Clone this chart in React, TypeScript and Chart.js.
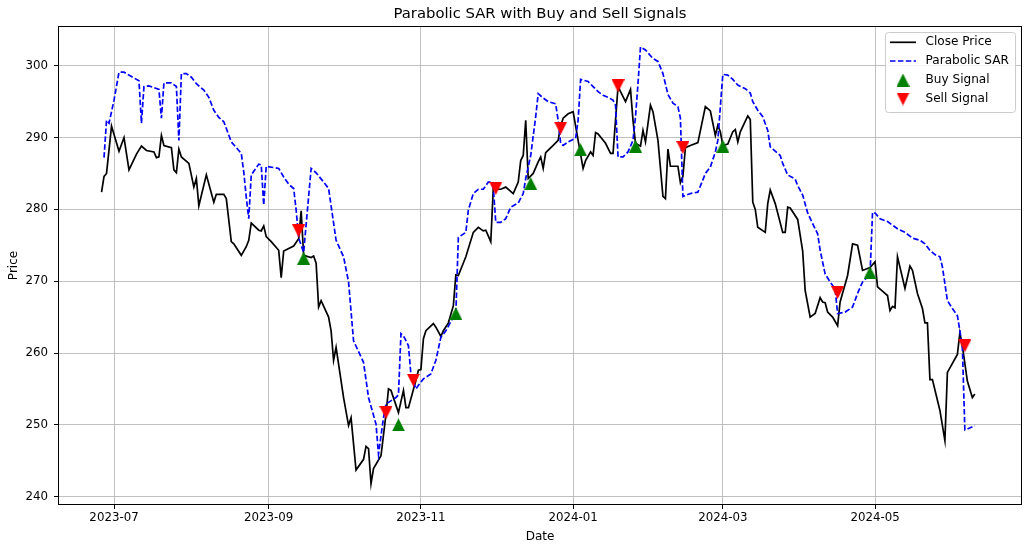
import { useEffect, useRef } from "react"
import { Chart, registerables } from "chart.js"

Chart.register(...registerables)

// x positions are days counted from 2023-07-01
const closeDays = [
  -5, -4, -3, -1, 2, 4, 6, 9, 11, 13, 16, 17, 18, 19, 20, 23, 24, 25, 26, 27, 30, 32, 33, 34, 37, 40, 41, 44, 45, 47,
  48, 51, 53, 54, 55, 58, 59, 60, 61, 63, 66, 67, 68, 72, 74, 75, 76, 79, 80, 81, 82, 83, 86, 87, 88, 89, 92, 94, 95,
  97, 100, 101, 102, 103, 104, 107, 109, 110, 111, 114, 116, 117, 118, 121, 122, 123, 124, 125, 128, 129, 131, 132,
  134, 136, 137, 138, 141, 144, 146, 148, 149, 151, 152, 153, 155, 157, 160, 162, 163, 164, 165, 166, 168, 170, 171,
  172, 173, 176, 178, 179, 180, 182, 184, 186, 188, 189, 191, 192, 193, 194, 197, 199, 200, 202, 203, 205, 207, 208,
  209, 211, 212, 213, 215, 216, 218, 220, 221, 222, 223, 226, 227, 228, 229, 231, 234, 237, 239, 241, 242, 243, 244,
  246, 248, 249, 250, 251, 254, 255, 256, 257, 258, 261, 262, 263, 265, 268, 269, 270, 271, 274, 276, 277, 279, 281,
  283, 284, 285, 286, 288, 290, 291, 294, 296, 298, 300, 303, 305, 306, 309, 310, 311, 312, 313, 314, 317, 319, 320,
  322, 324, 325, 326, 327, 328, 331, 333, 334, 338, 339, 340, 342, 344, 345,
]
const closePrices = [
  282.4, 284.6, 285.0, 291.6, 288.1, 290.0, 285.5, 287.7, 288.8, 288.2, 288.0, 287.2, 287.3, 290.3, 288.9, 288.6, 285.5,
  285.1, 288.4, 287.3, 286.4, 283.1, 284.3, 280.5, 284.8, 281.0, 282.1, 282.1, 281.5, 275.5, 275.2, 273.6, 274.8, 275.7,
  278.1, 277.1, 277.0, 277.7, 276.2, 275.5, 274.3, 270.5, 274.2, 274.9, 275.9, 279.8, 273.6, 273.3, 273.5, 272.5, 266.4,
  267.3, 265.0, 263.1, 259.0, 260.8, 253.8, 249.9, 251.0, 243.7, 245.2, 247.0, 246.7, 241.8, 243.9, 245.7, 251.5, 255.0,
  254.8, 251.7, 254.8, 252.4, 252.4, 256.2, 257.6, 257.7, 262.0, 263.1, 264.1, 263.6, 262.3, 263.1, 264.2, 266.6, 270.9,
  270.8, 273.4, 276.8, 277.5, 277.0, 277.1, 275.5, 282.9, 282.8, 282.8, 283.1, 282.2, 283.8, 286.8, 287.5, 292.4, 284.3,
  285.0, 286.6, 287.3, 285.7, 287.9, 288.9, 289.6, 291.6, 292.7, 293.3, 293.6, 289.6, 285.7, 286.8, 288.0, 287.5, 290.7,
  290.5, 289.2, 287.8, 287.8, 297.1, 296.4, 295.0, 296.7, 292.4, 289.2, 288.8, 291.0, 289.4, 294.5, 293.6, 289.6, 281.8,
  281.5, 288.4, 286.0, 286.0, 283.7, 284.6, 288.6, 288.9, 289.3, 294.3, 293.7, 290.3, 291.7, 290.8, 288.9, 289.1, 290.8,
  291.1, 289.4, 290.8, 293.0, 292.5, 281.0, 280.0, 277.5, 276.8, 280.8, 282.7, 280.8, 276.8, 276.8, 280.3, 280.2, 278.6,
  274.2, 268.7, 265.0, 265.5, 267.7, 267.1, 267.0, 265.7, 265.0, 263.8, 267.1, 270.8, 275.2, 275.0, 271.5, 271.9, 272.7,
  269.2, 268.3, 268.0, 265.9, 266.5, 266.3, 273.4, 269.0, 272.1, 271.5, 268.3, 266.2, 264.2, 264.2, 256.3, 256.3, 252.0,
  247.8, 257.3, 259.8, 262.8, 261.0, 256.1, 253.8, 254.3,
]

const sarDays = [
  -4, -3, -2, 0, 2, 4, 7, 10, 11, 12, 14, 18, 19, 20, 23, 25, 26, 27, 29, 31, 33, 36, 38, 40, 42, 44, 47, 51, 52, 53, 54,
  55, 58, 59, 60, 61, 66, 68, 70, 72, 73, 74, 76, 79, 81, 84, 86, 89, 92, 94, 96, 100, 102, 105, 106, 108, 109, 113, 114,
  115, 116, 118, 119, 121, 122, 124, 127, 129, 131, 133, 136, 137, 138, 141, 142, 144, 146, 148, 150, 151, 152, 153, 155,
  157, 159, 162, 164, 165, 167, 169, 170, 172, 174, 177, 178, 179, 180, 182, 185, 186, 187, 190, 192, 194, 196, 198, 200,
  201, 202, 204, 206, 208, 209, 210, 211, 213, 216, 218, 220, 222, 224, 226, 227, 228, 231, 234, 236, 237, 239, 241, 242,
  243, 244, 246, 248, 250, 253, 255, 256, 258, 260, 262, 263, 265, 267, 268, 270, 273, 274, 276, 278, 280, 282, 283, 285,
  287, 288, 289, 290, 293, 296, 298, 300, 302, 303, 304, 305, 307, 310, 312, 314, 317, 320, 323, 325, 327, 329, 331, 332,
  334, 336, 338, 339, 340, 341, 342, 345,
]
const sarValues = [
  287.2, 292.4, 292.0, 295.2, 299.1, 299.1, 298.5, 297.9, 292.0, 297.1, 297.2, 296.7, 292.7, 297.6, 297.6, 297.1, 289.6,
  298.9, 298.9, 298.4, 297.5, 296.6, 295.6, 293.8, 292.8, 292.2, 289.4, 287.8, 285.2, 281.7, 278.7, 284.8, 286.3, 286.2,
  280.6, 286.0, 285.7, 284.5, 283.5, 282.9, 279.9, 276.0, 274.0, 285.7, 285.1, 283.8, 282.9, 275.7, 273.4, 269.9, 261.7,
  258.7, 253.8, 250.1, 245.9, 251.0, 252.9, 253.8, 254.2, 262.7, 262.4, 261.0, 257.0, 255.0, 255.5, 256.4, 257.1, 259.0,
  262.2, 263.1, 265.0, 265.5, 276.1, 276.8, 279.9, 282.2, 282.8, 282.8, 283.8, 283.8, 283.1, 278.2, 278.2, 278.7, 280.3,
  280.9, 282.2, 284.3, 287.5, 292.9, 296.1, 295.5, 295.0, 294.7, 292.4, 289.2, 288.9, 289.4, 289.9, 292.4, 298.1, 297.8,
  297.1, 296.4, 295.9, 295.6, 295.2, 294.5, 287.3, 287.3, 288.0, 289.6, 292.9, 297.5, 302.6, 302.2, 301.0, 300.6, 298.9,
  296.0, 294.8, 294.3, 292.7, 281.8, 282.2, 282.4, 284.1, 285.0, 285.9, 288.0, 289.6, 294.3, 298.8, 298.7, 298.1, 297.3,
  296.8, 296.2, 295.0, 293.8, 292.9, 291.0, 288.7, 288.1, 287.5, 286.4, 284.8, 284.2, 283.3, 282.0, 279.5, 278.0, 276.6,
  274.3, 271.0, 269.9, 269.4, 268.9, 265.5, 265.7, 266.4, 268.3, 269.9, 270.6, 271.0, 279.6, 279.5, 278.7, 278.3, 277.8,
  277.3, 276.8, 276.0, 275.7, 275.2, 274.3, 273.7, 273.4, 272.0, 267.3, 266.2, 265.2, 263.1, 260.8, 249.3, 249.4, 249.9,
]

const buyDays = [76, 114, 137, 167, 187, 209, 244, 303]
const buyPrices = [273.2, 250.0, 265.5, 283.6, 288.3, 288.8, 288.8, 271.2]
const sellDays = [74, 109, 120, 153, 179, 202, 228, 290, 341]
const sellPrices = [277.0, 251.7, 256.2, 282.9, 291.3, 297.2, 288.6, 268.4, 261.0]

const xTickDays = [0, 62, 123, 184, 244, 305]
const xTickLabels = ["2023-07", "2023-09", "2023-11", "2024-01", "2024-03", "2024-05"]
const yTickValues = [240, 250, 260, 270, 280, 290, 300]

const FONT = "'DejaVu Sans', sans-serif"

const toPoints = (xs: number[], ys: number[]) => xs.map((x, i) => ({ x, y: ys[i] }))

// matplotlib style triangle, centred on its bounding box
function triangleMarker(color: string, down: boolean) {
  const s = 13
  const c = document.createElement("canvas")
  c.width = s
  c.height = s
  const g = c.getContext("2d")!
  g.fillStyle = color
  g.beginPath()
  if (down) {
    g.moveTo(0, 0)
    g.lineTo(s, 0)
    g.lineTo(s / 2, s)
  } else {
    g.moveTo(s / 2, 0)
    g.lineTo(s, s)
    g.lineTo(0, s)
  }
  g.closePath()
  g.fill()
  return c
}

const decorations = {
  id: "decorations",
  afterDatasetsDraw(chart: Chart) {
    const { ctx, chartArea: a } = chart
    ctx.save()
    ctx.strokeStyle = "#000"
    ctx.lineWidth = 1
    ctx.strokeRect(a.left + 0.5, a.top + 0.5, a.right - a.left - 1, a.bottom - a.top - 1)
    ctx.restore()
  },
  afterDraw(chart: Chart) {
    const { ctx, chartArea: a } = chart
    const cx = (a.left + a.right) / 2
    ctx.save()
    ctx.fillStyle = "#000"
    ctx.textBaseline = "middle"
    ctx.textAlign = "center"
    ctx.font = `14.8px ${FONT}`
    ctx.fillText("Parabolic SAR with Buy and Sell Signals", cx, 14)
    ctx.font = `12px ${FONT}`
    ctx.fillText("Date", cx, 537)
    ctx.save()
    ctx.translate(14, (a.top + a.bottom) / 2)
    ctx.rotate(-Math.PI / 2)
    ctx.fillText("Price", 0, 0)
    ctx.restore()

    // legend box
    ctx.beginPath()
    ctx.roundRect(885.5, 32.5, 130, 80, 3)
    ctx.fillStyle = "rgba(255,255,255,0.8)"
    ctx.fill()
    ctx.strokeStyle = "#cccccc"
    ctx.lineWidth = 1
    ctx.stroke()

    const rows = [42.3, 61, 80, 99]
    ctx.lineWidth = 1.7
    ctx.strokeStyle = "#000"
    ctx.beginPath()
    ctx.moveTo(890, rows[0])
    ctx.lineTo(916, rows[0])
    ctx.stroke()
    ctx.strokeStyle = "#0000ff"
    ctx.setLineDash([5.5, 2.4])
    ctx.beginPath()
    ctx.moveTo(890, rows[1])
    ctx.lineTo(916, rows[1])
    ctx.stroke()
    ctx.setLineDash([])
    const up = triangleMarker("#008000", false)
    const dn = triangleMarker("#ff0000", true)
    ctx.drawImage(up, 903 - up.width / 2, rows[2] - up.height / 2)
    ctx.drawImage(dn, 903 - dn.width / 2, rows[3] - dn.height / 2)

    ctx.fillStyle = "#000"
    ctx.textAlign = "left"
    ctx.font = `12.1px ${FONT}`
    ;["Close Price", "Parabolic SAR", "Buy Signal", "Sell Signal"].forEach((t, i) => {
      ctx.fillText(t, 925.5, rows[i])
    })
    ctx.restore()
  },
}

export default function App() {
  const chartRef = useRef<HTMLCanvasElement>(null)
  const chartInstance = useRef<Chart | null>(null)

  useEffect(() => {
    document.body.style.margin = "0"
    document.documentElement.style.overflow = "hidden"
    if (!chartRef.current) return
    const ctx = chartRef.current.getContext("2d")
    if (!ctx) return

    if (chartInstance.current) {
      chartInstance.current.destroy()
    }

    chartInstance.current = new Chart(ctx, {
      type: "line",
      data: {
        datasets: [
          {
            label: "Close Price",
            data: toPoints(closeDays, closePrices),
            borderColor: "#000000",
            borderWidth: 1.7,
            pointRadius: 0,
            tension: 0,
            order: 4,
          },
          {
            label: "Parabolic SAR",
            data: toPoints(sarDays, sarValues),
            borderColor: "#0000ff",
            borderWidth: 1.7,
            borderDash: [5.5, 2.4],
            pointRadius: 0,
            tension: 0,
            order: 3,
          },
          {
            label: "Buy Signal",
            data: toPoints(buyDays, buyPrices),
            showLine: false,
            pointStyle: triangleMarker("#008000", false),
            pointRadius: 7,
            order: 2,
          },
          {
            label: "Sell Signal",
            data: toPoints(sellDays, sellPrices),
            showLine: false,
            pointStyle: triangleMarker("#ff0000", true),
            pointRadius: 7,
            order: 1,
          },
        ],
      },
      options: {
        animation: false,
        responsive: false,
        layout: { autoPadding: false, padding: { top: 26, right: 2, left: 0, bottom: 0 } },
        plugins: {
          legend: { display: false },
          title: { display: false },
          tooltip: { enabled: false },
        },
        scales: {
          x: {
            type: "linear",
            min: -22.45,
            max: 363.9,
            afterFit: (s: any) => {
              s.height = 41
              s.paddingLeft = 0
              s.paddingRight = 0
            },
            afterBuildTicks: (axis: any) => {
              axis.ticks = xTickDays.map((v) => ({ value: v }))
            },
            ticks: {
              callback: (_v: any, i: number) => xTickLabels[i],
              font: { family: FONT, size: 11.8 },
              color: "#000",
              padding: 2,
              maxRotation: 0,
              autoSkip: false,
            },
            grid: { color: "#b0b0b0", lineWidth: 0.8, tickLength: 4, tickColor: "#000", tickWidth: 1 },
            border: { display: false },
          },
          y: {
            type: "linear",
            min: 238.84,
            max: 305.53,
            afterFit: (s: any) => {
              s.width = 58
              s.paddingTop = 0
              s.paddingBottom = 0
            },
            afterBuildTicks: (axis: any) => {
              axis.ticks = yTickValues.map((v) => ({ value: v }))
            },
            ticks: {
              font: { family: FONT, size: 11.8 },
              color: "#000",
              padding: 6,
            },
            grid: { color: "#b0b0b0", lineWidth: 0.8, tickLength: 4, tickColor: "#000", tickWidth: 1 },
            border: { display: false },
          },
        },
      },
      plugins: [decorations],
    })

    return () => {
      if (chartInstance.current) {
        chartInstance.current.destroy()
        chartInstance.current = null
      }
    }
  }, [])

  return (
    <div style={{ width: 1024, height: 546, overflow: "hidden" }}>
      <canvas ref={chartRef} width={1024} height={546} style={{ display: "block" }} />
    </div>
  )
}
